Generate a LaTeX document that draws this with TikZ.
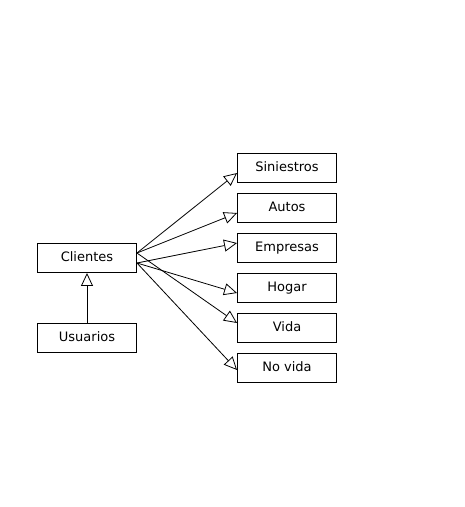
\documentclass[tikz,border=0pt]{standalone}
\usepackage{fontspec}
\setmainfont{DejaVu Sans}
\usetikzlibrary{arrows.meta,calc}
\begin{document}
\begin{tikzpicture}[x=1pt,y=-1pt,
  box/.style={draw,line width=0.9pt,minimum width=99pt,minimum height=29pt,inner sep=0pt,
    font=\fontsize{13}{14}\selectfont,text depth=0pt,text height=7.5pt},
  conn/.style={line width=0.8pt,-{Triangle[open,length=13pt,width=12pt]}}]
\useasboundingbox (0,0) rectangle (465,507);
\node[box] (cl) at (87,258) {Clientes};
\node[box] (us) at (87,338) {Usuarios};
\node[box] (si) at (287,168) {Siniestros};
\node[box] (au) at (287,208) {Autos};
\node[box] (em) at (287,248) {Empresas};
\node[box] (ho) at (287,288) {Hogar};
\node[box] (vi) at (287,328) {Vida};
\node[box] (nv) at (287,368) {No vida};
\coordinate (up) at ($(cl.east)+(0,-5)$);
\coordinate (lo) at ($(cl.east)+(0,5)$);
\draw[conn] (up) -- ($(si.west)+(0,5)$);
\draw[conn] (up) -- ($(au.west)+(0,5)$);
\draw[conn] (lo) -- ($(em.west)+(0,-5)$);
\draw[conn] (lo) -- ($(ho.west)+(0,5)$);
\draw[conn] (up) -- ($(vi.west)+(0,-5)$);
\draw[conn] (lo) -- ($(nv.west)+(0,2)$);
\draw[conn] (us.north) -- (cl.south);
\end{tikzpicture}
\end{document}
